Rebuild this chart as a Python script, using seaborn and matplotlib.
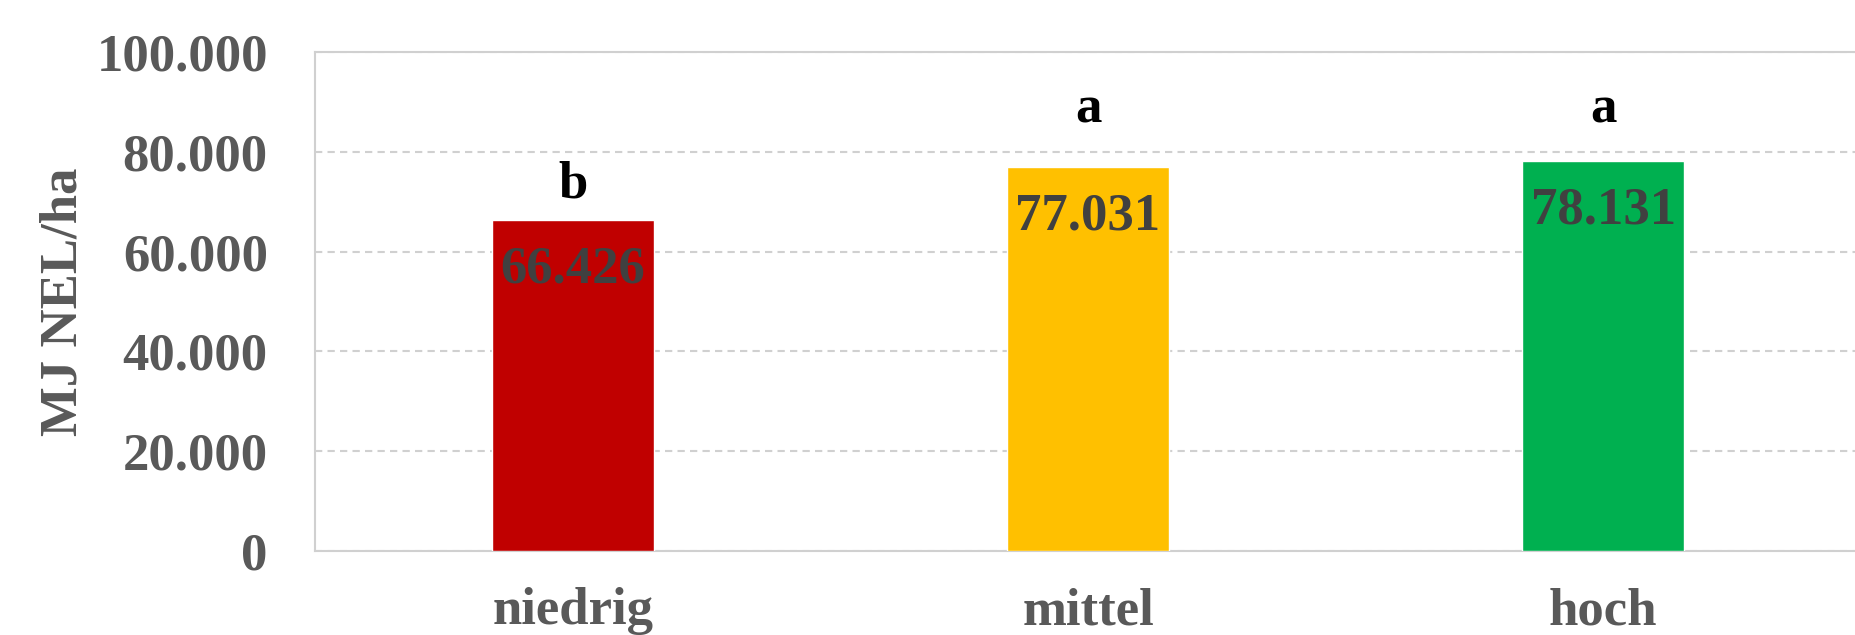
import matplotlib
matplotlib.use("Agg")
import matplotlib.pyplot as plt
from matplotlib.ticker import FuncFormatter, MultipleLocator
import seaborn as sns
import pandas as pd

# ---- data ----
categories = ["niedrig", "mittel", "hoch"]
values = [66426, 77031, 78131]
value_labels = ["66.426", "77.031", "78.131"]
letters = ["b", "a", "a"]
y_label = "MJ NEL/ha"

# ---- style ----
bar_colors = ["#C00000", "#FFC000", "#00B050"]
letter_offsets_pt = [16, 32, 28]   # layout: baseline of letters above bar top (points)

sns.set_style("white")
plt.rcParams["font.family"] = ["Liberation Serif", "DejaVu Serif"]
plt.rcParams["font.weight"] = "bold"

df = pd.DataFrame({"Kategorie": categories, "Wert": values})

fig = plt.figure(figsize=(18.56, 6.35), dpi=100)
ax = fig.add_axes([315 / 1856, 1 - 551 / 635, 1546 / 1856, 499 / 635])

sns.barplot(data=df, x="Kategorie", y="Wert", hue="Kategorie",
            palette=dict(zip(categories, bar_colors)), saturation=1,
            width=0.314, legend=False, ax=ax, zorder=3)

ax.set_ylim(0, 100000)
ax.set_xlim(-0.5, 2.5)
ax.yaxis.set_major_locator(MultipleLocator(20000))
ax.yaxis.set_major_formatter(FuncFormatter(lambda v, p: f"{v:,.0f}".replace(",", ".")))

grid_color = "#D0D0D0"
ax.yaxis.grid(True, color=grid_color, linewidth=1.5, linestyle=(0, (3.5, 2.5)), zorder=0)
ax.xaxis.grid(False)
for side in ["left", "bottom", "top"]:
    ax.spines[side].set_visible(True)
    ax.spines[side].set_color(grid_color)
    ax.spines[side].set_linewidth(1.5)
ax.spines["right"].set_visible(False)

ax.tick_params(axis="y", length=0, pad=34, labelsize=38, labelcolor="#595959")
ax.tick_params(axis="x", length=0, pad=26, labelsize=38, labelcolor="#595959")
for lab in ax.get_xticklabels() + ax.get_yticklabels():
    lab.set_fontweight("bold")

ax.set_xlabel("")
ax.set_ylabel(y_label, fontsize=38, fontweight="bold", color="#595959", labelpad=6)

for i, (v, lbl, let, off) in enumerate(zip(values, value_labels, letters, letter_offsets_pt)):
    ax.annotate(lbl, xy=(i, v), xytext=(0, -45), textcoords="offset points",
                ha="center", va="baseline", fontsize=38, fontweight="bold",
                color="#404040", zorder=5)
    ax.annotate(let, xy=(i, v), xytext=(0, off), textcoords="offset points",
                ha="center", va="baseline", fontsize=38, fontweight="bold",
                color="black", zorder=5)

fig.savefig("out.png", dpi=100)
